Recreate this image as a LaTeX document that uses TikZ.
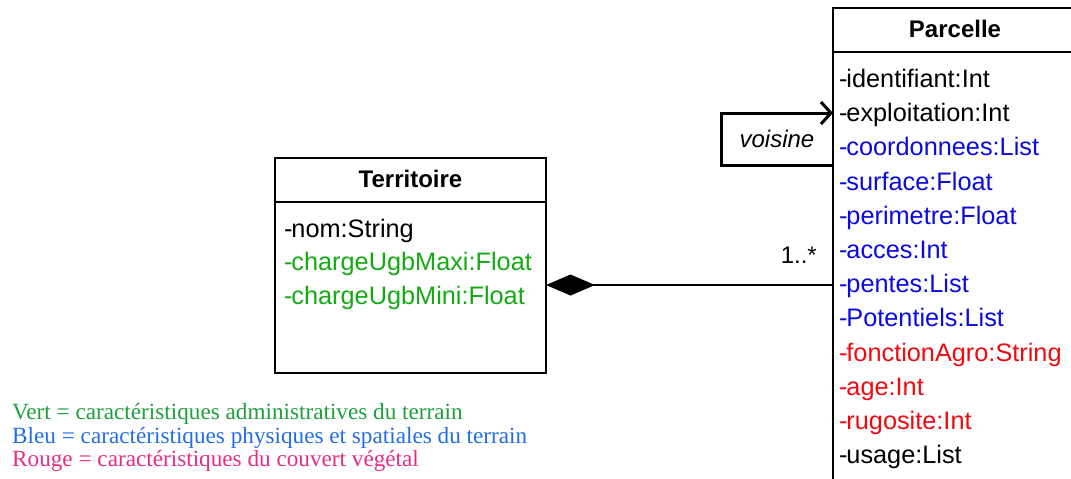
\documentclass[tikz,border=0pt]{standalone}
\usepackage{fontspec}
\setmainfont{Liberation Sans}
\newfontfamily\legendfont{Liberation Serif}
\usetikzlibrary{arrows.meta}
\definecolor{attrgreen}{RGB}{20,170,20}
\definecolor{attrblue}{RGB}{10,10,225}
\definecolor{attrred}{RGB}{240,10,15}
\definecolor{leggreen}{RGB}{30,160,60}
\definecolor{legblue}{RGB}{35,110,230}
\definecolor{legred}{RGB}{230,45,130}
\newcommand\attrdash{-\kern-1.2pt}
\begin{document}
\begin{tikzpicture}[x=1pt,y=-1pt,
  classbox/.style={draw,line width=2.5pt,inner sep=0pt},
  classname/.style={anchor=base,inner sep=0pt,font=\fontsize{24}{28}\selectfont\bfseries},
  attr/.style={anchor=base west,inner sep=0pt,font=\fontsize{25.3}{30}\selectfont},
  legend/.style={anchor=base west,inner sep=0pt,font=\legendfont\fontsize{23.2}{27}\selectfont}]
\useasboundingbox (0,0) rectangle (1071,479);
\clip (0,0) rectangle (1071,479);

% classes
\node(territoire) at (410.5,265.5)[classbox,minimum width=271pt,minimum height=215pt]{};
\node(parcelle) at (955,254)[classbox,minimum width=244pt,minimum height=492pt]{};
\draw[line width=2pt] (territoire.west |- 0,202) -- (territoire.east |- 0,202);
\draw[line width=2pt] (parcelle.west |- 0,52) -- (parcelle.east |- 0,52);
\node(tname) at (410.5,187)[classname]{Territoire};
\node(pname) at (955,37)[classname]{Parcelle};

\node(t1) at (284,237)[attr]{\attrdash nom:String};
\node(t2) at (284,270)[attr,attrgreen]{\attrdash chargeUgbMaxi:Float};
\node(t3) at (284,304)[attr,attrgreen]{\attrdash chargeUgbMini:Float};

\node(p1)  at (839,87)[attr]{\attrdash identifiant:Int};
\node(p2)  at (839,121)[attr]{\attrdash exploitation:Int};
\node(p3)  at (839,155)[attr,attrblue]{\attrdash coordonnees:List};
\node(p4)  at (839,190)[attr,attrblue]{\attrdash surface:Float};
\node(p5)  at (839,224)[attr,attrblue]{\attrdash perimetre:Float};
\node(p6)  at (839,258)[attr,attrblue]{\attrdash acces:Int};
\node(p7)  at (839,292)[attr,attrblue]{\attrdash pentes:List};
\node(p8)  at (839,326)[attr,attrblue]{\attrdash Potentiels:List};
\node(p9)  at (839,361)[attr,attrred]{\attrdash fonctionAgro:String};
\node(p10) at (839,395)[attr,attrred]{\attrdash age:Int};
\node(p11) at (839,429)[attr,attrred]{\attrdash rugosite:Int};
\node(p12) at (839,463)[attr]{\attrdash usage:List};

% associations
\coordinate(whole) at (546,285);
\coordinate(part) at (833,285);
\coordinate(selfout) at (833,165);
\coordinate(selfin) at (833,113);
\path [draw,line width=2pt,{Diamond[length=49pt,width=21pt]}-]
  (whole) -- (part);
\node(mult) at (817,263)[anchor=base east,inner sep=0pt,font=\fontsize{24}{28}\selectfont]{1..*};
\draw[line width=3pt,-{Straight Barb[length=10pt,width=22pt]}]
  (selfout) -- ++(-112,0) |- (selfin);
\node(voisine) at (777,147)[anchor=base,inner sep=0pt,font=\fontsize{24}{28}\selectfont\itshape]{voisine};

% legend
\node(lvert)  at (12,419)[legend,leggreen]{Vert = caractéristiques administratives du terrain};
\node(lbleu)  at (12,443)[legend,legblue]{Bleu = caractéristiques physiques et spatiales du terrain};
\node(lrouge) at (12,466)[legend,legred]{Rouge = caractéristiques du couvert végétal};
\end{tikzpicture}
\end{document}
